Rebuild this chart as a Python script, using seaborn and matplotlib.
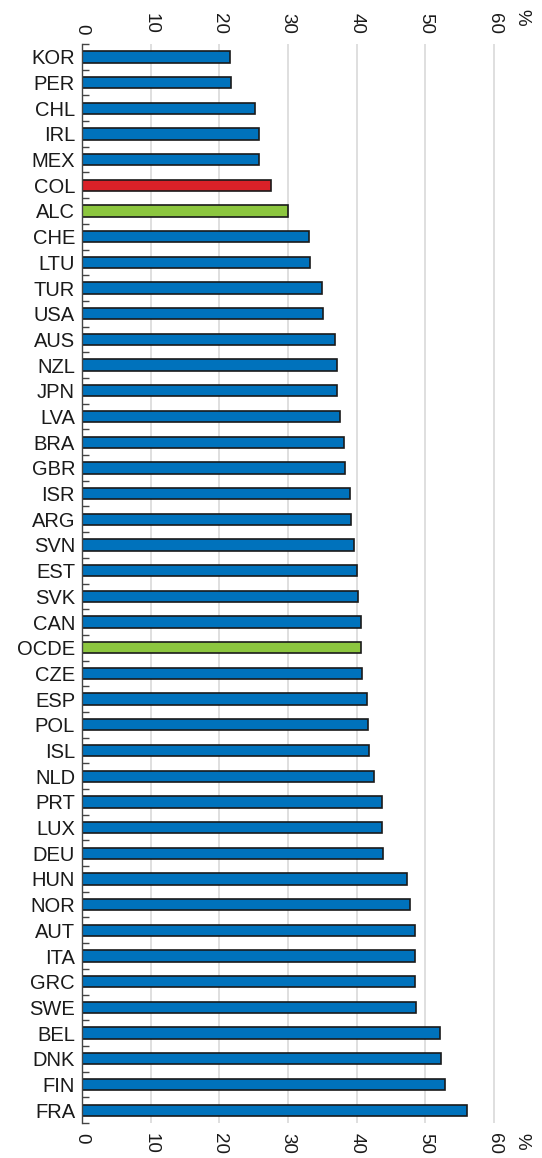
import numpy as np
import pandas as pd
import matplotlib
matplotlib.use("Agg")
import matplotlib.pyplot as plt
import seaborn as sns

# values (%)
countries = ["KOR", "PER", "CHL", "IRL", "MEX", "COL", "ALC", "CHE", "LTU", "TUR",
             "USA", "AUS", "NZL", "JPN", "LVA", "BRA", "GBR", "ISR", "ARG", "SVN",
             "EST", "SVK", "CAN", "OCDE", "CZE", "ESP", "POL", "ISL", "NLD", "PRT",
             "LUX", "DEU", "HUN", "NOR", "AUT", "ITA", "GRC", "SWE", "BEL", "DNK",
             "FIN", "FRA"]
values = [21.6, 21.7, 25.2, 25.8, 25.8, 27.5, 30.0, 33.1, 33.2, 34.9,
          35.1, 36.9, 37.1, 37.2, 37.6, 38.2, 38.35, 39.1, 39.2, 39.6,
          40.0, 40.15, 40.65, 40.7, 40.75, 41.45, 41.7, 41.8, 42.5, 43.75,
          43.75, 43.9, 47.4, 47.7, 48.5, 48.5, 48.5, 48.7, 52.1, 52.35,
          52.9, 56.1]
xticks = [0, 10, 20, 30, 40, 50, 60]

blue, red, green = "#0072BC", "#DA2128", "#8CC63F"
highlight = {"COL": red, "ALC": green, "OCDE": green}
palette = {c: highlight.get(c, blue) for c in countries}

df = pd.DataFrame({"country": countries, "value": values})

plt.rcParams["font.family"] = ["Liberation Sans", "DejaVu Sans"]

fig = plt.figure(figsize=(5.42, 11.58), dpi=100)
ax = fig.add_axes([0.1513, 0.0302, 0.7855, 0.9318])

sns.barplot(data=df, x="value", y="country", hue="country", palette=palette,
            legend=False, orient="h", width=0.44, edgecolor="#1a1a1a",
            linewidth=1.2, saturation=1, ax=ax)

ax.set_xlim(0, 62)
ax.set_ylim(len(countries) - 0.5, -0.5)
ax.set_xticks(xticks)
ax.set_xticklabels([str(t) for t in xticks])
ax.set_axisbelow(True)
ax.grid(axis="x", color="#d9d9d9", linewidth=1.2)
ax.grid(axis="y", visible=False)

ax.set_xlabel("")
ax.set_ylabel("")

for s in ["top", "right", "bottom"]:
    ax.spines[s].set_visible(False)
ax.spines["left"].set_color("#444444")
ax.spines["left"].set_linewidth(1.0)

# numbers are turned clockwise, read from top to bottom
ax.tick_params(axis="x", top=True, bottom=True, labeltop=True, labelbottom=True,
               length=0, pad=7, labelrotation=-90, labelsize=13.5, labelcolor="#1a1a1a")
ax.tick_params(axis="y", which="major", length=0, pad=5, labelsize=14.5,
               labelcolor="#1a1a1a")
ax.set_yticks(np.arange(-0.5, len(countries), 1), minor=True)
ax.tick_params(axis="y", which="minor", direction="in", length=5, width=1,
               color="#444444")

# percent sign next to the last tick label, top and bottom
ax.annotate("%", xy=(64.0, 1), xycoords=("data", "axes fraction"),
            xytext=(0, 13), textcoords="offset points", rotation=-90,
            ha="center", va="bottom", fontsize=13.5, color="#1a1a1a",
            annotation_clip=False)
ax.annotate("%", xy=(64.0, 0), xycoords=("data", "axes fraction"),
            xytext=(0, -7), textcoords="offset points", rotation=-90,
            ha="center", va="top", fontsize=13.5, color="#1a1a1a",
            annotation_clip=False)

fig.savefig("out.png", dpi=100)
